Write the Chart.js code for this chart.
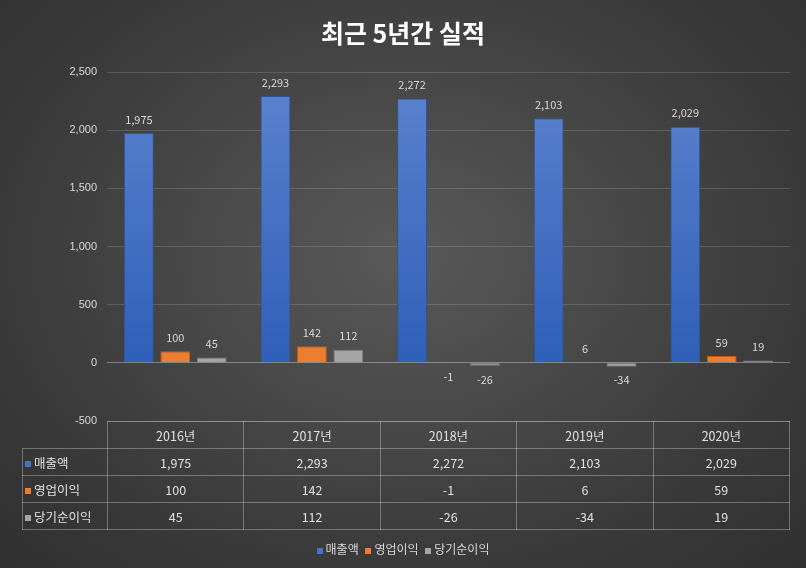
<!DOCTYPE html>
<html><head><meta charset="utf-8">
<script src="https://cdn.jsdelivr.net/npm/chart.js@4"></script>
<style>
body{margin:0;width:806px;height:568px;overflow:hidden;background:radial-gradient(ellipse at 50% 45%,#595959 0%,#3a3a3a 70%,#303030 100%);font-family:"Noto Sans CJK KR","Noto Sans",sans-serif;}
#wrap{position:relative;width:806px;height:568px}
#title{position:absolute;top:14px;left:0;width:806px;text-align:center;color:#fff;font-size:25px;font-weight:bold}
canvas{position:absolute;left:0;top:0}
table{position:absolute;left:22px;top:421px;border-collapse:collapse;table-layout:fixed;width:768px;color:#e0e0e0;font-size:12.5px}
td{border:1px solid rgba(255,255,255,0.3);text-align:center;height:27px;padding:0;box-sizing:border-box}
td.h{text-align:left;padding-left:2px;white-space:nowrap}
.sq{display:inline-block;width:6px;height:6px;margin-right:3px;vertical-align:middle}
#legend{position:absolute;top:540px;left:0;width:806px;text-align:center;color:#d9d9d9;font-size:12px}
#legend span.i{margin:0 2px}
</style></head><body><div id="wrap">
<canvas id="c" width="806" height="568"></canvas>
<div id="title">최근 5년간 실적</div>
<table id="tbl"><colgroup><col style="width:85px"><col><col><col><col><col></colgroup></table>
<div id="legend"></div>
</div>
<script>
const years = ['2016년', '2017년', '2018년', '2019년', '2020년']
const sales = [1975, 2293, 2272, 2103, 2029]
const opProfit = [100, 142, -1, 6, 59]
const netProfit = [45, 112, -26, -34, 19]
const seriesNames = ['매출액', '영업이익', '당기순이익']
const seriesColors = ['#4472c4', '#ed7d31', '#a5a5a5']
const allSeries = [sales, opProfit, netProfit]

const fmt = v => v.toLocaleString('en-US')

const ctx = document.getElementById('c').getContext('2d')
const blueGrad = ctx.createLinearGradient(0, 80, 0, 363)
blueGrad.addColorStop(0, '#5b83cf')
blueGrad.addColorStop(1, '#2f5fb8')

const labelPlugin = {
  id: 'labels',
  afterDatasetsDraw(chart) {
    const c = chart.ctx
    c.save()
    c.font = '11px "Noto Sans CJK KR", sans-serif'
    c.fillStyle = '#d9d9d9'
    c.textAlign = 'center'
    chart.data.datasets.forEach((ds, i) => {
      chart.getDatasetMeta(i).data.forEach((bar, j) => {
        const v = ds.data[j]
        if (v >= 0) { c.textBaseline = 'bottom'; c.fillText(fmt(v), bar.x, bar.y - 8) }
        else { c.textBaseline = 'top'; c.fillText(fmt(v), bar.x, Math.max(bar.y, bar.base) + 8) }
      })
    })
    c.restore()
  }
}

new Chart(ctx, {
  type: 'bar',
  data: {
    labels: years,
    datasets: allSeries.map((d, i) => ({
      label: seriesNames[i], data: d,
      backgroundColor: i === 0 ? blueGrad : seriesColors[i],
      borderColor: i === 0 ? '#2f5597' : (i === 1 ? '#c55a11' : '#7f7f7f'),
      borderWidth: 1,
      categoryPercentage: 0.8, barPercentage: 0.82,
    })),
  },
  options: {
    responsive: false, animation: false,
    layout: { padding: { top: 72, bottom: 147, right: 16, left: 0 } },
    plugins: { legend: { display: false }, tooltip: { enabled: false } },
    scales: {
      x: { display: false },
      y: {
        min: -500, max: 2500,
        afterFit: s => { s.width = 107 },
        border: { display: false },
        grid: { color: c => c.tick.value === 0 ? 'rgba(255,255,255,0.35)' : 'rgba(255,255,255,0.15)', drawTicks: false },
        ticks: { stepSize: 500, color: '#d9d9d9', font: { size: 11 }, padding: 10, callback: v => fmt(v) },
      },
    },
  },
  plugins: [labelPlugin],
})

const tbl = document.getElementById('tbl')
let html = '<tr><td class="h" style="border-top:none;border-left:none"></td>' + years.map(y => `<td>${y}</td>`).join('') + '</tr>'
allSeries.forEach((d, i) => {
  html += `<tr><td class="h"><span class="sq" style="background:${seriesColors[i]}"></span>${seriesNames[i]}</td>` + d.map(v => `<td>${fmt(v)}</td>`).join('') + '</tr>'
})
tbl.insertAdjacentHTML('beforeend', html)
document.getElementById('legend').innerHTML = seriesNames.map((n, i) => `<span class="i"><span class="sq" style="background:${seriesColors[i]}"></span>${n}</span>`).join(' ')
</script></body></html>
